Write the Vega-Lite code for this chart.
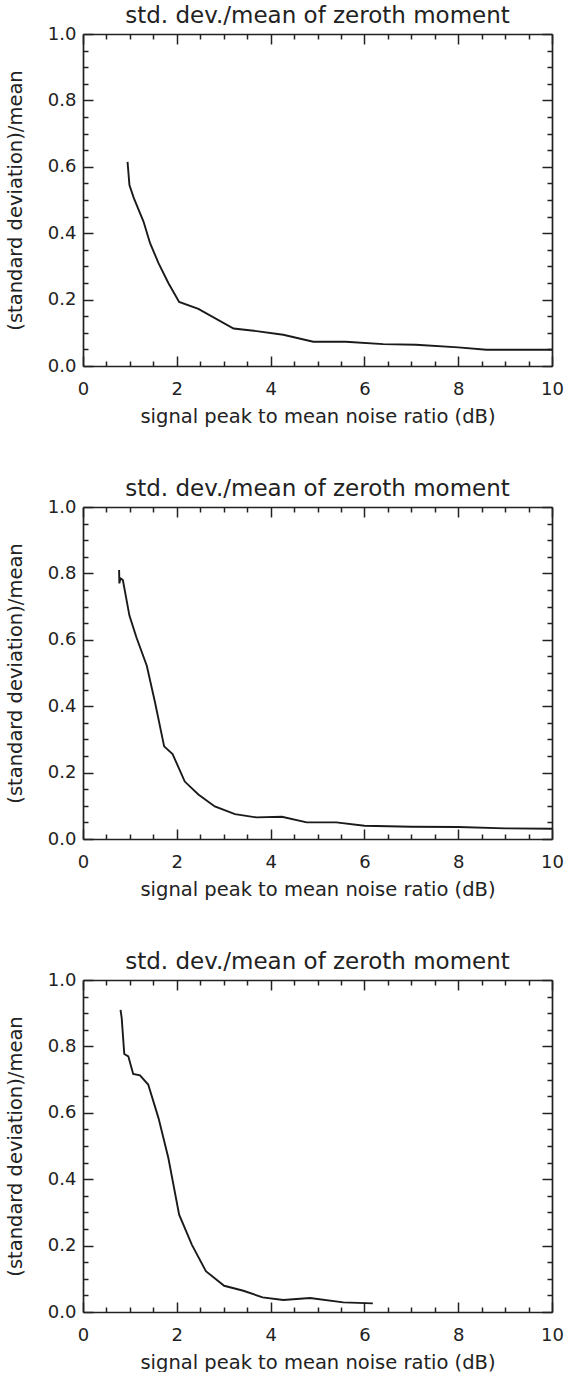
{
  "$schema": "https://vega.github.io/schema/vega-lite/v6.json",
  "background": "white",
  "padding": {"top": 5, "left": 5, "right": 5, "bottom": 0},
  "spacing": 52,
  "config": {
    "view": {"stroke": null},
    "font": "DejaVu Sans",
    "title": {"font": "DejaVu Sans", "fontSize": 23, "fontWeight": "normal", "color": "#222", "offset": -3},
    "axis": {
      "grid": false,
      "domainColor": "#222",
      "domainWidth": 1.7,
      "tickColor": "#222",
      "tickWidth": 1.5,
      "labelFont": "DejaVu Sans",
      "labelFontSize": 18,
      "labelColor": "#222",
      "titleFont": "DejaVu Sans",
      "titleFontSize": 19.5,
      "titleFontWeight": "normal",
      "titleColor": "#222",
      "labelFlush": false,
      "labelOverlap": false
    },
    "line": {"color": "#1a1a1a", "strokeWidth": 1.9}
  },
  "datasets": {
    "p1": [
      {"snr": 0.95, "ratio": 0.615},
      {"snr": 0.99, "ratio": 0.545},
      {"snr": 1.08, "ratio": 0.507},
      {"snr": 1.29, "ratio": 0.435},
      {"snr": 1.43, "ratio": 0.37},
      {"snr": 1.61, "ratio": 0.31},
      {"snr": 1.82, "ratio": 0.25},
      {"snr": 2.05, "ratio": 0.193},
      {"snr": 2.46, "ratio": 0.172},
      {"snr": 3.21, "ratio": 0.113},
      {"snr": 3.7, "ratio": 0.105},
      {"snr": 4.27, "ratio": 0.094},
      {"snr": 4.91, "ratio": 0.073},
      {"snr": 5.6, "ratio": 0.073},
      {"snr": 6.4, "ratio": 0.066},
      {"snr": 7.1, "ratio": 0.064},
      {"snr": 8.0, "ratio": 0.056},
      {"snr": 8.6, "ratio": 0.049},
      {"snr": 10.0, "ratio": 0.049}
    ],
    "p2": [
      {"snr": 0.77, "ratio": 0.81},
      {"snr": 0.775, "ratio": 0.77},
      {"snr": 0.80, "ratio": 0.785},
      {"snr": 0.85, "ratio": 0.78},
      {"snr": 0.99, "ratio": 0.673},
      {"snr": 1.14, "ratio": 0.607},
      {"snr": 1.36, "ratio": 0.522},
      {"snr": 1.535, "ratio": 0.412},
      {"snr": 1.73, "ratio": 0.279},
      {"snr": 1.91, "ratio": 0.256},
      {"snr": 2.17, "ratio": 0.173},
      {"snr": 2.46, "ratio": 0.134},
      {"snr": 2.81, "ratio": 0.098},
      {"snr": 3.24, "ratio": 0.075},
      {"snr": 3.7, "ratio": 0.065},
      {"snr": 4.24, "ratio": 0.067},
      {"snr": 4.77, "ratio": 0.05},
      {"snr": 5.4, "ratio": 0.05},
      {"snr": 6.0, "ratio": 0.04},
      {"snr": 7.0, "ratio": 0.037},
      {"snr": 8.0, "ratio": 0.036},
      {"snr": 9.0, "ratio": 0.032},
      {"snr": 10.0, "ratio": 0.031}
    ],
    "p3": [
      {"snr": 0.80, "ratio": 0.91},
      {"snr": 0.825, "ratio": 0.886},
      {"snr": 0.88, "ratio": 0.777},
      {"snr": 0.966, "ratio": 0.77},
      {"snr": 1.07, "ratio": 0.717},
      {"snr": 1.215, "ratio": 0.713},
      {"snr": 1.39, "ratio": 0.685},
      {"snr": 1.61, "ratio": 0.584},
      {"snr": 1.82, "ratio": 0.464},
      {"snr": 2.05, "ratio": 0.293},
      {"snr": 2.32, "ratio": 0.203},
      {"snr": 2.62, "ratio": 0.123},
      {"snr": 3.01, "ratio": 0.079},
      {"snr": 3.42, "ratio": 0.064},
      {"snr": 3.83, "ratio": 0.044},
      {"snr": 4.27, "ratio": 0.036},
      {"snr": 4.84, "ratio": 0.042},
      {"snr": 5.55, "ratio": 0.029},
      {"snr": 6.18, "ratio": 0.026}
    ]
  },
  "vconcat": [
    {
      "title": "std. dev./mean of zeroth moment",
      "width": 469, "height": 332,
      "data": {"name": "p1"},
      "layer": [
        {
          "mark": {"type": "line"},
          "encoding": {
            "x": {"field": "snr", "type": "quantitative", "scale": {"domain": [0, 10], "nice": false, "zero": false},
              "axis": {"orient": "bottom", "title": "signal peak to mean noise ratio (dB)", "values": [0,0.5,1,1.5,2,2.5,3,3.5,4,4.5,5,5.5,6,6.5,7,7.5,8,8.5,9,9.5,10],
                "labelExpr": "datum.value % 2 == 0 ? format(datum.value, 'd') : ''",
                "tickSize": {"condition": {"test": "datum.value % 2 == 0", "value": -10}, "value": -5},
                "labelPadding": 24, "titlePadding": 4}},
            "y": {"field": "ratio", "type": "quantitative", "scale": {"domain": [0, 1], "nice": false, "zero": false},
              "axis": {"orient": "left", "title": "(standard deviation)/mean", "values": [0,0.05,0.1,0.15,0.2,0.25,0.3,0.35,0.4,0.45,0.5,0.55,0.6,0.65,0.7,0.75,0.8,0.85,0.9,0.95,1],
                "labelExpr": "abs(datum.value*5 - round(datum.value*5)) < 0.001 ? format(datum.value, '.1f') : ''",
                "tickSize": {"condition": {"test": "abs(datum.value*5 - round(datum.value*5)) < 0.001", "value": -10}, "value": -5},
                "labelPadding": 17, "titlePadding": 22}}
          }
        },
        {
          "mark": {"type": "line", "strokeOpacity": 0},
          "encoding": {
            "x": {"field": "snr", "type": "quantitative",
              "axis": {"orient": "top", "title": null, "labels": false, "values": [0,0.5,1,1.5,2,2.5,3,3.5,4,4.5,5,5.5,6,6.5,7,7.5,8,8.5,9,9.5,10],
                "tickSize": {"condition": {"test": "datum.value % 2 == 0", "value": -10}, "value": -5}}},
            "y": {"field": "ratio", "type": "quantitative",
              "axis": {"orient": "right", "title": null, "labels": false, "values": [0,0.05,0.1,0.15,0.2,0.25,0.3,0.35,0.4,0.45,0.5,0.55,0.6,0.65,0.7,0.75,0.8,0.85,0.9,0.95,1],
                "tickSize": {"condition": {"test": "abs(datum.value*5 - round(datum.value*5)) < 0.001", "value": -10}, "value": -5}}}
          }
        }
      ],
      "resolve": {"axis": {"x": "independent", "y": "independent"}}
    },
    {
      "title": "std. dev./mean of zeroth moment",
      "width": 469, "height": 332,
      "data": {"name": "p2"},
      "layer": [
        {
          "mark": {"type": "line"},
          "encoding": {
            "x": {"field": "snr", "type": "quantitative", "scale": {"domain": [0, 10], "nice": false, "zero": false},
              "axis": {"orient": "bottom", "title": "signal peak to mean noise ratio (dB)", "values": [0,0.5,1,1.5,2,2.5,3,3.5,4,4.5,5,5.5,6,6.5,7,7.5,8,8.5,9,9.5,10],
                "labelExpr": "datum.value % 2 == 0 ? format(datum.value, 'd') : ''",
                "tickSize": {"condition": {"test": "datum.value % 2 == 0", "value": -10}, "value": -5},
                "labelPadding": 24, "titlePadding": 4}},
            "y": {"field": "ratio", "type": "quantitative", "scale": {"domain": [0, 1], "nice": false, "zero": false},
              "axis": {"orient": "left", "title": "(standard deviation)/mean", "values": [0,0.05,0.1,0.15,0.2,0.25,0.3,0.35,0.4,0.45,0.5,0.55,0.6,0.65,0.7,0.75,0.8,0.85,0.9,0.95,1],
                "labelExpr": "abs(datum.value*5 - round(datum.value*5)) < 0.001 ? format(datum.value, '.1f') : ''",
                "tickSize": {"condition": {"test": "abs(datum.value*5 - round(datum.value*5)) < 0.001", "value": -10}, "value": -5},
                "labelPadding": 17, "titlePadding": 22}}
          }
        },
        {
          "mark": {"type": "line", "strokeOpacity": 0},
          "encoding": {
            "x": {"field": "snr", "type": "quantitative",
              "axis": {"orient": "top", "title": null, "labels": false, "values": [0,0.5,1,1.5,2,2.5,3,3.5,4,4.5,5,5.5,6,6.5,7,7.5,8,8.5,9,9.5,10],
                "tickSize": {"condition": {"test": "datum.value % 2 == 0", "value": -10}, "value": -5}}},
            "y": {"field": "ratio", "type": "quantitative",
              "axis": {"orient": "right", "title": null, "labels": false, "values": [0,0.05,0.1,0.15,0.2,0.25,0.3,0.35,0.4,0.45,0.5,0.55,0.6,0.65,0.7,0.75,0.8,0.85,0.9,0.95,1],
                "tickSize": {"condition": {"test": "abs(datum.value*5 - round(datum.value*5)) < 0.001", "value": -10}, "value": -5}}}
          }
        }
      ],
      "resolve": {"axis": {"x": "independent", "y": "independent"}}
    },
    {
      "title": "std. dev./mean of zeroth moment",
      "width": 469, "height": 332,
      "data": {"name": "p3"},
      "layer": [
        {
          "mark": {"type": "line"},
          "encoding": {
            "x": {"field": "snr", "type": "quantitative", "scale": {"domain": [0, 10], "nice": false, "zero": false},
              "axis": {"orient": "bottom", "title": "signal peak to mean noise ratio (dB)", "values": [0,0.5,1,1.5,2,2.5,3,3.5,4,4.5,5,5.5,6,6.5,7,7.5,8,8.5,9,9.5,10],
                "labelExpr": "datum.value % 2 == 0 ? format(datum.value, 'd') : ''",
                "tickSize": {"condition": {"test": "datum.value % 2 == 0", "value": -10}, "value": -5},
                "labelPadding": 24, "titlePadding": 4}},
            "y": {"field": "ratio", "type": "quantitative", "scale": {"domain": [0, 1], "nice": false, "zero": false},
              "axis": {"orient": "left", "title": "(standard deviation)/mean", "values": [0,0.05,0.1,0.15,0.2,0.25,0.3,0.35,0.4,0.45,0.5,0.55,0.6,0.65,0.7,0.75,0.8,0.85,0.9,0.95,1],
                "labelExpr": "abs(datum.value*5 - round(datum.value*5)) < 0.001 ? format(datum.value, '.1f') : ''",
                "tickSize": {"condition": {"test": "abs(datum.value*5 - round(datum.value*5)) < 0.001", "value": -10}, "value": -5},
                "labelPadding": 17, "titlePadding": 22}}
          }
        },
        {
          "mark": {"type": "line", "strokeOpacity": 0},
          "encoding": {
            "x": {"field": "snr", "type": "quantitative",
              "axis": {"orient": "top", "title": null, "labels": false, "values": [0,0.5,1,1.5,2,2.5,3,3.5,4,4.5,5,5.5,6,6.5,7,7.5,8,8.5,9,9.5,10],
                "tickSize": {"condition": {"test": "datum.value % 2 == 0", "value": -10}, "value": -5}}},
            "y": {"field": "ratio", "type": "quantitative",
              "axis": {"orient": "right", "title": null, "labels": false, "values": [0,0.05,0.1,0.15,0.2,0.25,0.3,0.35,0.4,0.45,0.5,0.55,0.6,0.65,0.7,0.75,0.8,0.85,0.9,0.95,1],
                "tickSize": {"condition": {"test": "abs(datum.value*5 - round(datum.value*5)) < 0.001", "value": -10}, "value": -5}}}
          }
        }
      ],
      "resolve": {"axis": {"x": "independent", "y": "independent"}}
    }
  ]
}
